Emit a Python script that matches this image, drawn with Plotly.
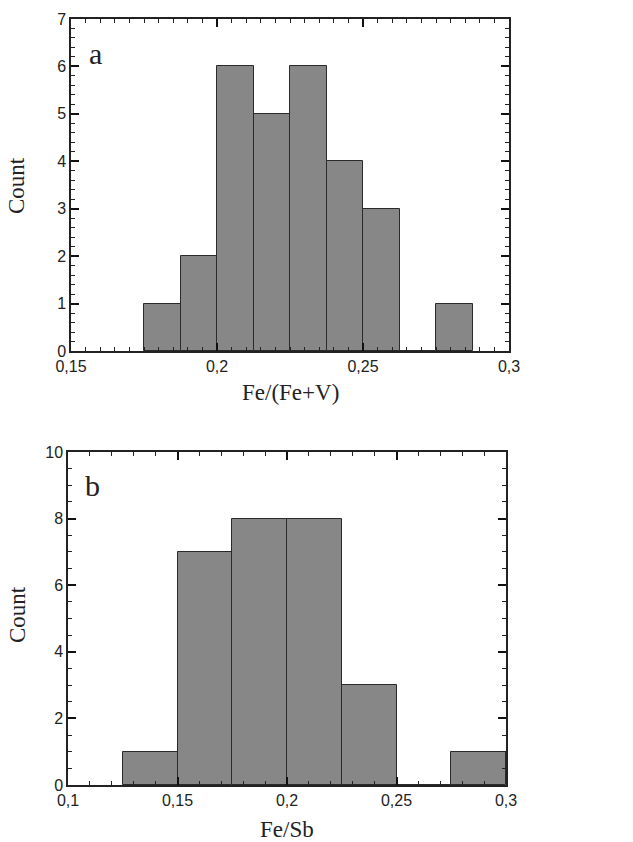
import plotly.graph_objects as go

# Panel a: Fe/(Fe+V)
a_edges = [0.175, 0.1875, 0.2, 0.2125, 0.225, 0.2375, 0.25, 0.2625, 0.275, 0.2875]
a_counts = [1, 2, 6, 5, 6, 4, 3, 0, 1]
a_xticks = [0.15, 0.2, 0.25, 0.3]
a_xticklabels = ["0,15", "0,2", "0,25", "0,3"]

# Panel b: Fe/Sb
b_edges = [0.125, 0.15, 0.175, 0.2, 0.225, 0.25, 0.275, 0.3]
b_counts = [1, 7, 8, 8, 3, 0, 1]
b_xticks = [0.1, 0.15, 0.2, 0.25, 0.3]
b_xticklabels = ["0,1", "0,15", "0,2", "0,25", "0,3"]

W, H = 633, 842
BAR_FILL = "#878787"
BAR_LINE = "#2a2a2a"
SERIF = "Liberation Serif, Times New Roman, serif"
SANS = "Liberation Sans, Arial, sans-serif"


def centers(edges):
    return [(edges[i] + edges[i + 1]) / 2 for i in range(len(edges) - 1)]


def widths(edges):
    return [edges[i + 1] - edges[i] for i in range(len(edges) - 1)]


fig = go.Figure()
fig.add_trace(go.Bar(x=centers(a_edges), y=a_counts, width=widths(a_edges),
                     marker=dict(color=BAR_FILL, line=dict(color=BAR_LINE, width=1)),
                     xaxis="x", yaxis="y", showlegend=False))
fig.add_trace(go.Bar(x=centers(b_edges), y=b_counts, width=widths(b_edges),
                     marker=dict(color=BAR_FILL, line=dict(color=BAR_LINE, width=1)),
                     xaxis="x2", yaxis="y2", showlegend=False))


def mn(d):
    return dict(dtick=d, ticks="inside", ticklen=4, tickwidth=1, tickcolor="#222")


def xd(l, r):
    return [l / W, r / W]


def yd(top, bottom):
    return [1 - bottom / H, 1 - top / H]


def ax(**kw):
    base = dict(showline=True, linecolor="#222", linewidth=1.5, mirror="allticks",
                ticks="inside", ticklen=8, tickwidth=1.5, tickcolor="#111",
                showgrid=False, zeroline=False, automargin=False,
                tickfont=dict(family=SANS, size=16, color="#222"))
    base.update(kw)
    return base


fig.update_layout(
    width=W, height=H, margin=dict(l=0, r=0, t=0, b=0),
    paper_bgcolor="white", plot_bgcolor="white",
    separators=",.", bargap=0,
)
fig.layout.xaxis = ax(domain=xd(71, 509), range=[0.15, 0.3], anchor="y",
                      tickmode="array", tickvals=a_xticks, ticktext=a_xticklabels,
                      minor=mn(0.005))
fig.layout.yaxis = ax(domain=yd(19, 351), range=[0, 7], anchor="x",
                      dtick=1, minor=mn(0.2))
fig.layout.xaxis2 = ax(domain=xd(68, 506), range=[0.1, 0.3], anchor="y2",
                       tickmode="array", tickvals=b_xticks, ticktext=b_xticklabels,
                       minor=mn(0.01))
fig.layout.yaxis2 = ax(domain=yd(452, 785), range=[0, 10], anchor="x2",
                       dtick=2, minor=mn(0.5))

title_font = dict(family=SERIF, size=23, color="#222")
letter_font = dict(family=SERIF, size=30, color="#222")
ann = [
    dict(text="Count", x=17 / W, y=1 - 186 / H, textangle=-90, font=title_font),
    dict(text="Fe/(Fe+V)", x=290 / W, y=1 - 392 / H, font=title_font),
    dict(text="a", x=95 / W, y=1 - 54 / H, font=letter_font),
    dict(text="Count", x=17 / W, y=1 - 615 / H, textangle=-90, font=title_font),
    dict(text="Fe/Sb", x=287 / W, y=1 - 829 / H, font=title_font),
    dict(text="b", x=92 / W, y=1 - 485 / H, font=letter_font),
]
fig.update_layout(annotations=[dict(a, xref="paper", yref="paper", showarrow=False,
                                    xanchor="center", yanchor="middle") for a in ann])

fig.write_html("out.html")
